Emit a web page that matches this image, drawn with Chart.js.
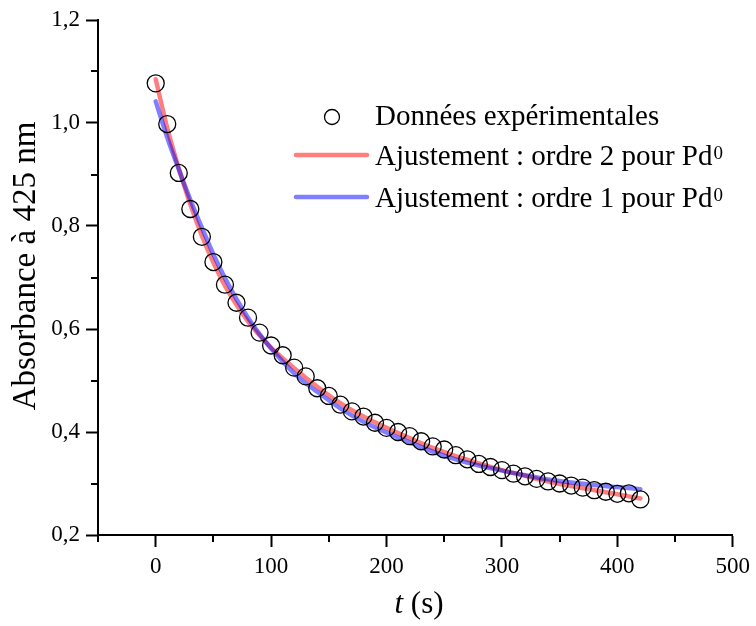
<!DOCTYPE html>
<html><head><meta charset="utf-8">
<script src="https://cdn.jsdelivr.net/npm/chart.js@4.4.1/dist/chart.umd.min.js"></script>
<style>html,body{margin:0;padding:0;background:#fff}#wrap{width:756px;height:626px;position:relative}</style>
</head><body><div id="wrap"><canvas id="c" width="756" height="626"></canvas></div>
<script>
// ---- data ----
const tData = [0,10,20,30,40,50,60,70,80,90,100,110,120,130,140,150,160,170,180,190,200,210,220,230,240,250,260,270,280,290,300,310,320,330,340,350,360,370,380,390,400,410,420];
const absData = [1.077,0.998,0.903,0.833,0.779,0.730,0.686,0.651,0.622,0.593,0.568,0.549,0.525,0.508,0.485,0.470,0.453,0.440,0.430,0.418,0.408,0.400,0.392,0.382,0.372,0.366,0.355,0.347,0.338,0.332,0.326,0.319,0.314,0.309,0.304,0.300,0.296,0.292,0.287,0.284,0.280,0.281,0.269];
const tFit = [0,10,20,30,40,50,60,70,80,90,100,120,140,160,180,200,220,240,260,280,300,320,340,360,380,400,420];
const fitOrder2 = [1.085,0.990,0.912,0.842,0.781,0.729,0.684,0.647,0.615,0.588,0.564,0.524,0.488,0.456,0.430,0.408,0.388,0.369,0.353,0.339,0.326,0.315,0.304,0.295,0.287,0.279,0.271];
const fitOrder1 = [1.042,0.972,0.910,0.851,0.797,0.745,0.699,0.658,0.622,0.590,0.562,0.514,0.478,0.446,0.420,0.399,0.380,0.362,0.347,0.335,0.325,0.316,0.308,0.302,0.297,0.293,0.289];
const xTicks = [0,100,200,300,400,500];
const xMinor = [-50,50,150,250,350,450];
const yTicks = [0.2,0.4,0.6,0.8,1.0,1.2];
const yMinor = [0.3,0.5,0.7,0.9,1.1];
const seriesNames = ['Données expérimentales','Ajustement : ordre 2 pour Pd','Ajustement : ordre 1 pour Pd'];
const supText = '0';
const xTitleItalic = 't';
const xTitleRest = ' (s)';
const yTitle = 'Absorbance à 425 nm';

const FONT = "'Liberation Serif'";
const RED = 'rgba(255,0,0,0.5)';
const BLUE = 'rgba(0,0,255,0.5)';

const pts = (xs, ys) => xs.map((x,i)=>({x:x, y:ys[i]}));

const decor = {
  id:'decor',
  afterDraw(chart){
    const ctx = chart.ctx, xs = chart.scales.x, ys = chart.scales.y;
    ctx.save();
    ctx.strokeStyle = '#000'; ctx.lineWidth = 2;
    xMinor.forEach(v=>{const p = Math.round(xs.getPixelForValue(v)); ctx.beginPath(); ctx.moveTo(p, xs.top); ctx.lineTo(p, xs.top+7); ctx.stroke();});
    yMinor.forEach(v=>{const p = Math.round(ys.getPixelForValue(v)); ctx.beginPath(); ctx.moveTo(ys.right, p); ctx.lineTo(ys.right-7, p); ctx.stroke();});
    // y title
    ctx.fillStyle = '#000';
    ctx.save();
    ctx.translate(35, 266);
    ctx.rotate(-Math.PI/2);
    ctx.font = '33px ' + FONT; ctx.textAlign = 'center'; ctx.textBaseline = 'alphabetic';
    ctx.fillText(yTitle, 0, 0);
    ctx.restore();
    // x title
    ctx.textBaseline = 'alphabetic'; ctx.textAlign = 'left';
    ctx.font = 'italic 31px ' + FONT; const w1 = ctx.measureText(xTitleItalic).width;
    ctx.font = '31px ' + FONT; const w2 = ctx.measureText(xTitleRest).width;
    const cx = 419; let x0 = cx - (w1+w2)/2;
    ctx.font = 'italic 31px ' + FONT; ctx.fillText(xTitleItalic, x0, 613);
    ctx.font = '31px ' + FONT; ctx.fillText(xTitleRest, x0+w1, 613);
    // legend
    ctx.lineWidth = 1.3; ctx.strokeStyle = '#000';
    ctx.beginPath(); ctx.arc(332, 117, 7.5, 0, Math.PI*2); ctx.stroke();
    ctx.lineCap = 'round'; ctx.lineWidth = 4.5;
    ctx.strokeStyle = RED; ctx.beginPath(); ctx.moveTo(296,155); ctx.lineTo(367,155); ctx.stroke();
    ctx.strokeStyle = BLUE; ctx.beginPath(); ctx.moveTo(296,197); ctx.lineTo(367,197); ctx.stroke();
    const bases = [125,165,207];
    seriesNames.forEach((s,i)=>{
      ctx.font = '29px ' + FONT;
      ctx.fillText(s, 375, bases[i]);
      if(i>0){ const w = ctx.measureText(s).width; ctx.font = '19px ' + FONT; ctx.fillText(supText, 375+w+1, bases[i]-6); }
    });
    ctx.restore();
  }
};

new Chart(document.getElementById('c'), {
  type:'scatter',
  data:{ datasets:[
    { label:seriesNames[0], data:pts(tData, absData), showLine:false, pointRadius:8.5, pointHoverRadius:8.5, pointBorderWidth:1.3, borderColor:'#000', backgroundColor:'rgba(0,0,0,0)', pointStyle:'circle' },
    { label:seriesNames[2], data:pts(tFit, fitOrder1), showLine:true, pointRadius:0, borderColor:BLUE, borderWidth:4.5, cubicInterpolationMode:'monotone', borderCapStyle:'round', borderJoinStyle:'round' },
    { label:seriesNames[1], data:pts(tFit, fitOrder2), showLine:true, pointRadius:0, borderColor:RED, borderWidth:4.5, cubicInterpolationMode:'monotone', borderCapStyle:'round', borderJoinStyle:'round' }
  ]},
  options:{
    responsive:false, animation:false, devicePixelRatio:1,
    layout:{ padding:{ top:20, right:19, left:0, bottom:0 } },
    plugins:{ legend:{display:false}, tooltip:{enabled:false} },
    scales:{
      x:{ type:'linear', min:-50, max:500,
        afterBuildTicks:s=>{ s.ticks = xTicks.map(v=>({value:v})); },
        afterFit:s=>{ s.height = 91; },
        grid:{ drawOnChartArea:false, drawTicks:true, tickLength:12, tickWidth:2, tickColor:'#000' },
        border:{ display:true, color:'#000', width:2 },
        ticks:{ font:{family:FONT, size:23}, color:'#000', padding:6, maxRotation:0, autoSkip:false, callback:v=>String(v) }
      },
      y:{ type:'linear', min:0.2, max:1.2,
        afterBuildTicks:s=>{ s.ticks = yTicks.map(v=>({value:v})); },
        afterFit:s=>{ s.width = 98; },
        grid:{ drawOnChartArea:false, drawTicks:true, tickLength:12, tickWidth:2, tickColor:'#000' },
        border:{ display:true, color:'#000', width:2 },
        ticks:{ font:{family:FONT, size:23}, color:'#000', padding:6, autoSkip:false, callback:v=>Number(v).toFixed(1).replace('.', ',') }
      }
    }
  },
  plugins:[decor]
});
</script>
</body></html>
